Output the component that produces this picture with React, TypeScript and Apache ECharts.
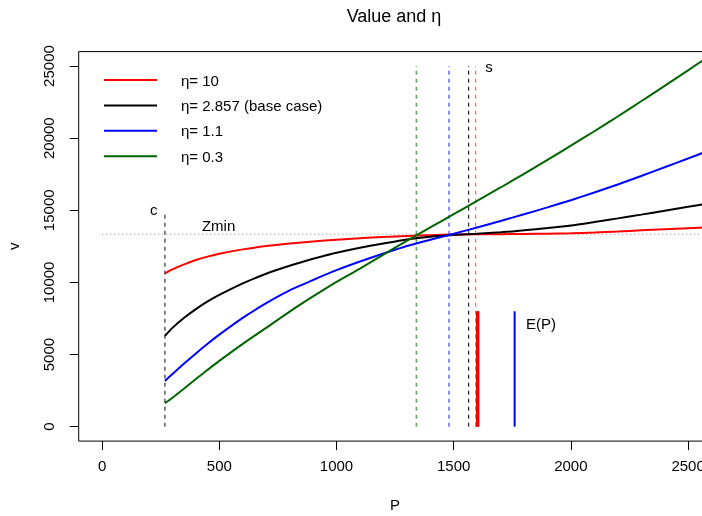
import React, { useEffect, useRef } from "react";
import * as echarts from "echarts";

// P grid shared by all value curves
const pGrid = [268, 300, 350, 400, 450, 500, 600, 700, 800, 900, 1000, 1100, 1200, 1300, 1400, 1500, 1600, 1700, 1800, 1900, 2000, 2100, 2200, 2300, 2400, 2500, 2600];

const vEta10 = [10630, 10900, 11250, 11550, 11790, 11990, 12290, 12520, 12700, 12840, 12960, 13060, 13150, 13220, 13275, 13315, 13335, 13345, 13360, 13380, 13410, 13460, 13530, 13610, 13690, 13760, 13830];
const vEta2857 = [6300, 6850, 7550, 8150, 8680, 9130, 9930, 10600, 11150, 11640, 12050, 12400, 12700, 12980, 13170, 13290, 13370, 13470, 13610, 13770, 13950, 14190, 14440, 14700, 14970, 15240, 15510];
const vEta11 = [3170, 3650, 4380, 5080, 5750, 6380, 7540, 8560, 9450, 10170, 10850, 11450, 12000, 12530, 12960, 13370, 13810, 14260, 14720, 15200, 15700, 16230, 16790, 17380, 17980, 18590, 19210];
const vEta03 = [1620, 2000, 2640, 3300, 3940, 4560, 5740, 6850, 7980, 9030, 10040, 10960, 11930, 12880, 13810, 14730, 15650, 16580, 17520, 18490, 19480, 20480, 21500, 22560, 23620, 24700, 25800];

const seriesNames = ["η= 10", "η= 2.857 (base case)", "η= 1.1", "η= 0.3"];
const seriesColors = ["#ff0000", "#000000", "#0000ff", "#006400"];
const seriesValues = [vEta10, vEta2857, vEta11, vEta03];

// thresholds s for each eta (red, black, blue, green)
const sValues = [1594, 1564, 1480, 1341];
const sColors = ["rgba(255,0,0,0.75)", "#000000", "rgba(0,0,255,0.5)", "rgba(0,100,0,0.55)"];
const sTop = 25000;

// c, Zmin
const cValue = 268;
const cTop = 14800;
const zMin = 13333;

// E(P) (drawn black first, then red, blue)
const ePValues = [1605, 1601, 1760];
const ePColors = ["#000000", "#ff0000", "#0000ff"];
const ePWidths = [2, 3, 2];
const ePTop = 8000;

// annotation labels in data coordinates
const annotTexts = ["c", "Zmin", "s", "E(P)"];
const annotP = [220, 497, 1651, 1873];
const annotV = [15050, 13960, 24970, 7140];

const xTicks = [0, 500, 1000, 1500, 2000, 2500];
const yTicks = [0, 5000, 10000, 15000, 20000, 25000];

const FONT = "Liberation Sans, Arial, Helvetica, sans-serif";

export default function App() {
  const ref = useRef<HTMLDivElement>(null);
  useEffect(() => {
    if (!ref.current) return;
    const chart = echarts.init(ref.current, null, { renderer: "svg" });
    const series: any[] = [];

    // Zmin dotted line
    series.push({
      type: "line",
      name: "zmin",
      data: [[0, zMin], [2700, zMin]],
      symbol: "none",
      lineStyle: { color: "#8c8c8c", width: 1, type: [1, 3] },
      z: 1,
    });
    // c line
    series.push({
      type: "line",
      name: "cline",
      data: [[cValue, 0], [cValue, cTop]],
      symbol: "none",
      lineStyle: { color: "#000", width: 1, type: [4, 4] },
      z: 1,
    });
    // s lines
    sValues.forEach((s, i) => {
      series.push({
        type: "line",
        name: "s" + i,
        data: [[s, 0], [s, sTop]],
        symbol: "none",
        lineStyle: { color: sColors[i], width: i >= 2 ? 1.8 : 1, type: [4, 4] },
        z: 1,
      });
    });
    // E(P) lines
    ePValues.forEach((e, i) => {
      series.push({
        type: "line",
        name: "ep" + i,
        data: [[e, 0], [e, ePTop]],
        symbol: "none",
        lineStyle: { color: ePColors[i], width: ePWidths[i], type: "solid" },
        z: 2,
      });
    });
    // value curves
    seriesNames.forEach((n, i) => {
      series.push({
        type: "line",
        name: n,
        data: pGrid.map((p, j) => [p, seriesValues[i][j]]),
        symbol: "none",
        smooth: 0.2,
        color: seriesColors[i],
        lineStyle: { color: seriesColors[i], width: 2 },
        z: 3,
      });
    });
    // annotations
    series.push({
      type: "scatter",
      name: "annot",
      symbolSize: 0,
      data: annotP.map((p, i) => ({ value: [p, annotV[i]], name: annotTexts[i] })),
      label: {
        show: true,
        position: "inside",
        formatter: (d: any) => d.name,
        color: "#000",
        opacity: 1,
        textBorderWidth: 0,
        fontSize: 15,
        fontFamily: FONT,
      },
      silent: true,
      z: 4,
    });

    chart.setOption({
      animation: false,
      title: {
        text: "Value and η",
        left: 389,
        top: 2,
        textAlign: "center",
        textStyle: { fontSize: 18, fontWeight: "normal", fontFamily: FONT, color: "#000" },
      },
      legend: {
        data: seriesNames,
        orient: "vertical",
        left: 99,
        top: 66,
        icon: "rect",
        itemWidth: 53,
        itemHeight: 2,
        itemGap: 7.4,
        textStyle: { fontSize: 15, fontFamily: FONT, color: "#000", lineHeight: 18, padding: [0, 0, 0, 19] },
        selectedMode: false,
      },
      grid: {
        left: 78.7,
        top: 51.6,
        width: 632.8,
        height: 389.5,
        show: true,
        borderColor: "#000",
        borderWidth: 1,
        backgroundColor: "transparent",
        containLabel: false,
        outerBoundsMode: "none",
      },
      xAxis: {
        type: "value",
        min: -100,
        max: 2600,
        name: "P",
        nameLocation: "middle",
        nameGap: 56,
        nameTextStyle: { fontSize: 15, fontFamily: FONT, color: "#000" },
        axisLine: { show: false, onZero: false },
        splitLine: { show: false },
        axisTick: { show: true, inside: false, customValues: xTicks, length: 9, lineStyle: { color: "#000" } },
        axisLabel: { customValues: xTicks, fontSize: 15, fontFamily: FONT, color: "#000", margin: 17, formatter: (v: number) => String(v) },
      },
      yAxis: {
        type: "value",
        min: -1000,
        max: 26000,
        name: "v",
        nameLocation: "middle",
        nameGap: 58,
        nameRotate: 90,
        nameTextStyle: { fontSize: 15, fontFamily: FONT, color: "#000" },
        axisLine: { show: false, onZero: false },
        splitLine: { show: false },
        axisTick: { show: true, inside: false, customValues: yTicks, length: 9, lineStyle: { color: "#000" } },
        axisLabel: { customValues: yTicks, fontSize: 15, fontFamily: FONT, color: "#000", margin: 23, rotate: 90, formatter: (v: number) => String(v) },
      },
      series,
    });
    return () => chart.dispose();
  }, []);
  return <div ref={ref} style={{ position: "fixed", left: 0, top: 0, width: 702, height: 516 }} />;
}
